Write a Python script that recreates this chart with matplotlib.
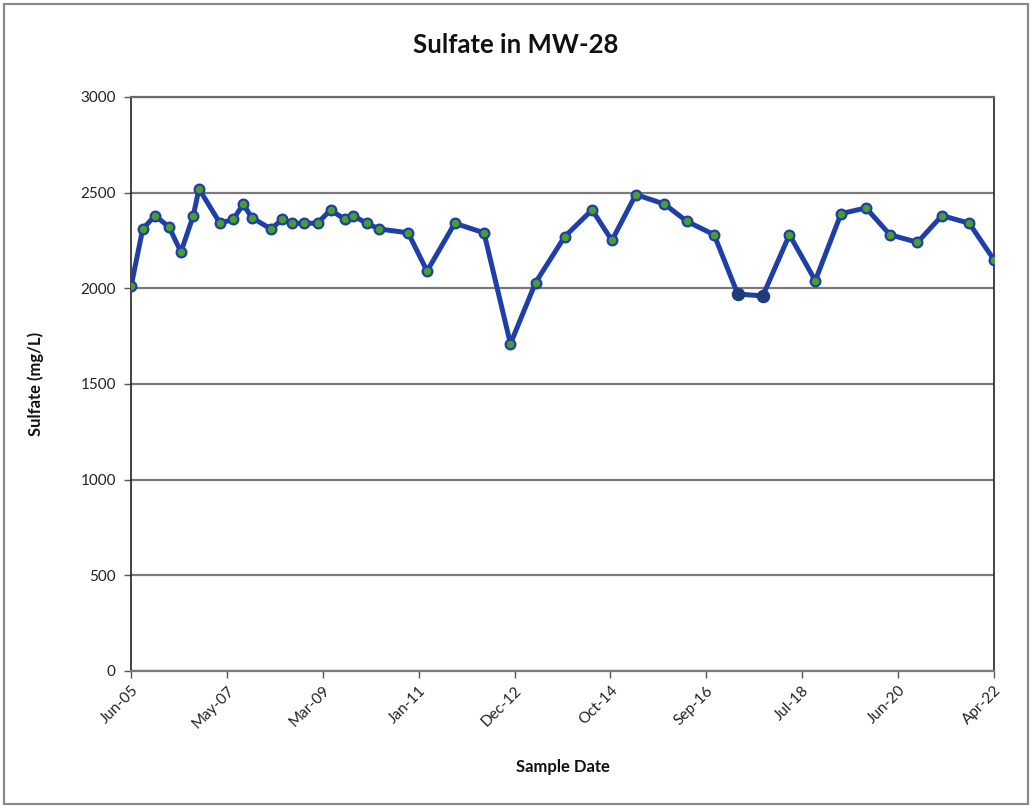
import matplotlib
matplotlib.use("Agg")
import matplotlib.pyplot as plt
import matplotlib.dates as mdates
import numpy as np
import pandas as pd
from matplotlib.patches import Rectangle

# Sulfate results for monitoring well MW-28
sample_dates = [
    "2005-06-22", "2005-09-13", "2005-12-10", "2006-03-19", "2006-06-12",
    "2006-09-08", "2006-10-18", "2007-03-17", "2007-06-19", "2007-08-29",
    "2007-10-28", "2008-03-13", "2008-06-01", "2008-08-07", "2008-11-05",
    "2009-02-08", "2009-05-11", "2009-08-21", "2009-10-19", "2010-01-22",
    "2010-04-22", "2010-11-14", "2011-03-29", "2011-10-12", "2012-05-07",
    "2012-11-11", "2013-05-09", "2013-12-02", "2014-06-15", "2014-11-03",
    "2015-04-22", "2015-11-12", "2016-04-19", "2016-10-30", "2017-04-16",
    "2017-10-11", "2018-04-19", "2018-10-20", "2019-04-21", "2019-10-16",
    "2020-04-03", "2020-10-16", "2021-04-08", "2021-10-19", "2022-04-12",
]
sulfate_mg_l = [
    2010, 2310, 2380, 2320, 2190,
    2380, 2520, 2340, 2360, 2440,
    2370, 2310, 2360, 2340, 2340,
    2340, 2410, 2360, 2380, 2340,
    2310, 2290, 2090, 2340, 2290,
    1710, 2030, 2270, 2410, 2250,
    2490, 2440, 2350, 2280, 1970,
    1960, 2280, 2040, 2390, 2420,
    2280, 2240, 2380, 2340, 2150,
]
# samples plotted with dark markers
dark_marker_dates = ["2017-04-16", "2017-10-11"]

x_tick_labels = ["Jun-05", "May-07", "Mar-09", "Jan-11", "Dec-12",
                 "Oct-14", "Sep-16", "Jul-18", "Jun-20", "Apr-22"]
y_ticks = [0, 500, 1000, 1500, 2000, 2500, 3000]

title = "Sulfate in MW-28"
x_label = "Sample Date"
y_label = "Sulfate (mg/L)"

dates = pd.to_datetime(sample_dates)
values = np.array(sulfate_mg_l)
xnum = mdates.date2num(dates)

plt.rcParams["font.family"] = ["Lato", "DejaVu Sans"]

fig = plt.figure(figsize=(10.32, 8.08), dpi=100)
fig.patch.set_facecolor("white")
fig.add_artist(Rectangle((0.004, 0.005), 0.992, 0.99, transform=fig.transFigure,
                         fill=False, edgecolor="#8a8a8a", linewidth=1.6))

ax = fig.add_axes([0.127, 0.1696, 0.836, 0.7104])

line_color = "#1f3fa8"
ax.plot(xnum, values, color=line_color, linewidth=3.6, zorder=3,
        solid_joinstyle="round")
mask = np.isin(np.array(sample_dates), dark_marker_dates)
ax.plot(xnum[~mask], values[~mask], linestyle="none", marker="o",
        markersize=7, markerfacecolor="#4a9e2a", markeredgecolor=line_color,
        markeredgewidth=1.6, zorder=4)
ax.plot(xnum[mask], values[mask], linestyle="none", marker="o",
        markersize=8.5, markerfacecolor="#1d3c78", markeredgecolor="#1d3c78",
        markeredgewidth=1.2, zorder=4)

ax.set_xlim(xnum[0], xnum[-1])
ax.set_ylim(0, 3000)
ax.set_yticks(y_ticks)
ax.set_yticklabels([str(v) for v in y_ticks])
ax.set_xticks(np.linspace(xnum[0], xnum[-1], len(x_tick_labels)))
ax.set_xticklabels(x_tick_labels, rotation=45, ha="right",
                   rotation_mode="anchor")

ax.yaxis.grid(True, color="#7a7a7a", linewidth=1.6)
ax.set_axisbelow(True)
for side in ["left", "right"]:
    ax.spines[side].set_color("#222222")
    ax.spines[side].set_linewidth(1.2)
ax.spines["top"].set_color("#6a6a6a")
ax.spines["top"].set_linewidth(1.6)
ax.spines["bottom"].set_color("#7a7a7a")
ax.spines["bottom"].set_linewidth(1.6)

ax.tick_params(axis="y", direction="out", length=5, width=1, color="#555555",
               labelsize=11, labelcolor="#222222", pad=6)
ax.tick_params(axis="x", direction="out", length=5, width=1, color="#555555",
               labelsize=11, labelcolor="#222222", pad=4)

fig.text(0.5, 0.944, title, ha="center", va="center", fontsize=18.5,
         fontweight="bold", color="#111111")
ax.set_xlabel(x_label, fontsize=12, fontweight="bold", labelpad=20,
              color="#111111")
ax.set_ylabel(y_label, fontsize=12, fontweight="bold", labelpad=26,
              color="#111111")

fig.savefig("out.png", dpi=100, facecolor="white")
